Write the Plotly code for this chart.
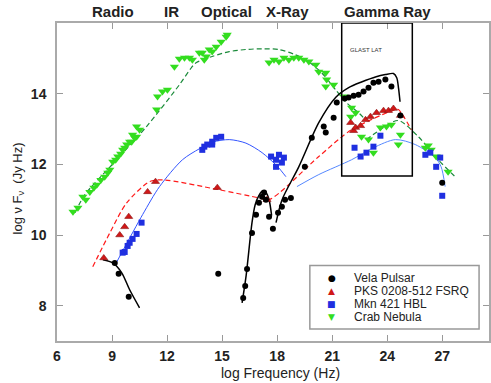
import plotly.graph_objects as go

# ---------------- data (log frequency [Hz], log nu F_nu [Jy Hz]) ----------------
vela_x = [9.15, 9.36, 9.91, 14.79, 16.15, 16.26, 16.36, 16.63, 16.85, 17.01, 17.18, 17.29, 17.39,
          17.56, 17.77, 18.05, 18.26, 18.43, 18.75, 19.51, 19.89, 20.54, 20.65, 21.08, 21.25, 21.68,
          21.90, 22.17, 22.44, 22.71, 22.98, 23.25, 23.53, 23.90, 24.23, 24.72, 27.0]
vela_y = [9.21, 8.90, 8.25, 8.90, 8.22, 8.56, 9.04, 10.06, 10.57, 10.91, 11.08, 11.20, 11.00,
          10.52, 10.18, 10.63, 10.80, 11.00, 11.05, 11.93, 12.75, 13.07, 12.90, 13.32, 13.75, 13.86,
          13.89, 13.94, 13.97, 14.06, 14.17, 14.31, 14.34, 14.40, 14.20, 13.38, 11.48]

pks_x = [8.55, 9.42, 9.69, 9.91, 10.94, 11.37, 14.74, 17.45, 22.01, 22.17, 22.28, 22.55, 22.82,
         23.09, 23.42, 23.80, 24.07, 24.34, 24.72]
pks_y = [9.35, 10.00, 10.23, 10.52, 11.22, 11.51, 11.34, 11.00, 13.18, 12.95, 13.04, 13.09, 13.26,
         13.35, 13.46, 13.52, 13.52, 13.58, 13.38]

mkn_x = [9.58, 9.69, 9.85, 9.96, 10.12, 10.34, 10.61, 13.92, 14.03, 14.19, 14.46, 14.46, 14.68,
         14.95, 17.67, 17.94, 18.10, 18.26, 17.94, 18.37, 23.63, 23.25, 22.22, 22.87, 22.55, 26.08,
         26.35, 26.89, 26.67, 27.0]
mkn_y = [9.50, 9.52, 9.69, 9.78, 9.89, 10.03, 10.35, 12.41, 12.50, 12.56, 12.64, 12.56, 12.75,
         12.78, 12.22, 12.13, 12.27, 12.05, 11.93, 12.19, 12.81, 12.50, 12.47, 12.33, 12.22, 12.27,
         12.33, 12.19, 11.93, 11.11]

crab_x = [6.87, 7.14, 7.41, 7.57, 7.79, 8.01, 8.17, 8.39, 8.60, 8.77, 8.88, 9.04, 9.20, 9.31, 9.47,
          9.58, 9.69, 9.80, 9.96, 10.07, 10.23, 10.34, 10.50, 10.34, 10.12,
          11.43, 11.48, 11.75, 12.02, 12.40, 12.67, 12.95, 13.22, 13.38, 13.76,
          13.92, 14.14, 14.46, 14.68, 14.95, 15.22, 15.28, 14.30, 14.03,
          17.56, 17.83, 18.10, 18.37, 18.64, 18.91, 19.18, 19.46, 19.73, 20.11, 20.27, 20.65, 20.70,
          21.08, 20.65, 21.63, 22.06, 22.28, 22.01, 22.60, 22.98, 23.25, 23.63, 23.96, 24.23, 24.61,
          26.08, 26.40, 26.67, 27.32, 26.24, 24.72]
crab_y = [10.66, 10.77, 11.08, 11.00, 11.22, 11.34, 11.42, 11.56, 11.65, 11.76, 11.85, 12.07, 12.13,
          12.22, 12.30, 12.41, 12.47, 12.56, 12.64, 12.64, 12.75, 12.78, 12.98, 13.07, 12.84,
          13.55, 13.92, 14.06, 14.11, 14.76, 14.99, 15.02, 15.02, 14.96, 15.16,
          15.16, 15.05, 15.19, 15.33, 15.47, 15.61, 15.67, 15.25, 14.96,
          14.88, 14.96, 14.91, 15.02, 14.96, 15.02, 15.02, 14.96, 14.91, 14.82, 14.62, 14.59, 14.40,
          14.25, 14.20, 13.92, 13.60, 13.46, 13.35, 12.78, 12.70, 12.33, 13.04, 13.07, 13.12, 12.56,
          12.47, 12.41, 12.22, 11.79, 12.53, 12.84]

# model curves
vela_m1_x = [8.50, 9.04, 9.53, 9.96, 10.50]
vela_m1_y = [9.30, 9.21, 8.93, 8.45, 7.94]
vela_m2_x = [16.09, 16.31, 16.63, 16.80, 17.01, 17.18, 17.39, 17.56, 17.70]
vela_m2_y = [8.08, 8.85, 10.35, 10.85, 11.12, 11.24, 11.20, 11.00, 10.55]
vela_m3_x = [17.94, 18.27, 19.18, 20.27, 21.20, 21.90, 22.60, 23.40, 23.90, 24.34, 24.52, 24.62, 24.70]
vela_m3_y = [10.35, 11.00, 11.93, 13.18, 13.90, 14.17, 14.33, 14.48, 14.54, 14.57, 14.45, 14.15, 13.77]

pks_m_x = [7.95, 8.88, 9.80, 11.05, 11.75, 14.84, 17.01, 17.56, 20.27, 22.06, 24.45, 24.61, 25.32]
pks_m_y = [9.10, 10.06, 10.91, 11.51, 11.56, 11.28, 11.05, 11.00, 12.22, 12.98, 13.55, 13.55, 12.98]

mkn_m1_x = [9.26, 10.67, 11.59, 12.84, 13.76, 14.50, 15.39, 16.30, 17.18, 18.00, 18.48]
mkn_m1_y = [9.24, 10.58, 11.37, 12.13, 12.44, 12.63, 12.70, 12.60, 12.33, 11.95, 11.65]
mkn_m2_x = [19.08, 20.27, 22.06, 23.25, 24.45, 25.53, 26.62, 26.94, 27.16]
mkn_m2_y = [11.37, 11.71, 12.13, 12.47, 12.70, 12.56, 12.19, 11.93, 11.37]

crab_m1_x = [6.98, 7.52, 9.20, 10.88, 12.67, 13.33, 13.60, 14.50, 15.39, 16.30, 17.18, 18.10,
             18.90, 19.56, 20.43, 21.19, 21.73, 22.44, 22.82]
crab_m1_y = [10.63, 11.14, 12.10, 13.07, 14.25, 14.74, 14.88, 15.06, 15.19, 15.25, 15.27, 15.25,
             15.12, 14.96, 14.59, 14.11, 13.77, 13.46, 13.26]
crab_m2_x = [22.87, 23.80, 24.61, 25.70, 26.78, 27.76]
crab_m2_y = [12.70, 13.04, 13.24, 12.78, 12.13, 11.62]

tick_vals = [6, 9, 12, 15, 18, 21, 24, 27]
y_ticks = [8, 10, 12, 14]
bands = ["Radio", "IR", "Optical", "X-Ray", "Gamma Ray"]
band_x = [9.04, 12.24, 15.22, 18.59, 24.02]
legend_names = ["Vela Pulsar", "PKS 0208-512 FSRQ", "Mkn 421 HBL", "Crab Nebula"]
legend_syms = ["●", "▲", "■", "▼"]
legend_cols = ["#000000", "#d01818", "#1f2fe0", "#33dd1f"]
glast_box = [21.52, 25.37, 11.67, 16.0]

FONT = "Liberation Sans, Arial, sans-serif"

fig = go.Figure()

def line(x, y, color, dash="solid", width=1):
    fig.add_trace(go.Scatter(x=x, y=y, mode="lines", line=dict(color=color, width=width, dash=dash,
                                                               shape="spline", smoothing=0.8),
                             showlegend=False, hoverinfo="skip"))

line(crab_m1_x, crab_m1_y, "#1a8a3a", "5px,3px", 1.2)
line(crab_m2_x, crab_m2_y, "#1a8a3a", "5px,3px", 1.2)
line(mkn_m1_x, mkn_m1_y, "#3355ff", "solid", 1)
line(mkn_m2_x, mkn_m2_y, "#5588ff", "solid", 1)
line(pks_m_x, pks_m_y, "#ff1a1a", "5px,3px", 1.2)
line(vela_m1_x, vela_m1_y, "#000000", "solid", 1.5)
line(vela_m2_x, vela_m2_y, "#000000", "solid", 1.5)
line(vela_m3_x, vela_m3_y, "#000000", "solid", 1.5)

fig.add_trace(go.Scatter(x=crab_x, y=crab_y, mode="markers", name=legend_names[3],
                         marker=dict(symbol="triangle-down", size=8, color=legend_cols[3]), showlegend=False))
fig.add_trace(go.Scatter(x=mkn_x, y=mkn_y, mode="markers", name=legend_names[2],
                         marker=dict(symbol="square", size=6, color=legend_cols[2]), showlegend=False))
fig.add_trace(go.Scatter(x=pks_x, y=pks_y, mode="markers", name=legend_names[1],
                         marker=dict(symbol="triangle-up", size=7, color=legend_cols[1],
                                     line=dict(color="#8a1010", width=0.6)), showlegend=False))
fig.add_trace(go.Scatter(x=vela_x, y=vela_y, mode="markers", name=legend_names[0],
                         marker=dict(symbol="circle", size=6, color="#000000"), showlegend=False))

# GLAST LAT box
fig.add_shape(type="rect", xref="x", yref="y", x0=glast_box[0], x1=glast_box[1],
              y0=glast_box[2], y1=glast_box[3], line=dict(color="black", width=1.5))
fig.add_annotation(x=glast_box[0] + 0.32, y=15.25, xref="x", yref="y", text="GLAST LAT",
                   showarrow=False, xanchor="left", yanchor="middle",
                   font=dict(family=FONT, size=6, color="#333"))

# band labels
for b, bx in zip(bands, band_x):
    fig.add_annotation(x=bx, y=1.035, xref="x", yref="paper", text=b, showarrow=False,
                       xanchor="center", yanchor="middle",
                       font=dict(family=FONT, size=15, color="#222", weight="bold"))

# axis titles
fig.add_annotation(x=0.518, y=-0.1, xref="paper", yref="paper", text="log Frequency (Hz)",
                   showarrow=False, xanchor="center", yanchor="middle",
                   font=dict(family=FONT, size=14, color="#222"))
fig.add_annotation(x=-0.09, y=0.48, xref="paper", yref="paper", text="log ν F<sub>ν</sub>  (Jy Hz)",
                   showarrow=False, textangle=-90, xanchor="center", yanchor="middle",
                   font=dict(family=FONT, size=13, color="#222"))

# legend box
fig.add_shape(type="rect", xref="paper", yref="paper", x0=0.5853, x1=0.977, y0=0.038, y1=0.2373,
              line=dict(color="#999", width=1.5), fillcolor="white")
row_y = [0.1994, 0.1582, 0.1171, 0.0759]
for name, sym, col, ry in zip(legend_names, legend_syms, legend_cols, row_y):
    fig.add_annotation(x=0.636, y=ry, xref="paper", yref="paper", text=sym, showarrow=False,
                       xanchor="center", yanchor="middle",
                       font=dict(family="DejaVu Sans", size=9, color=col))
    fig.add_annotation(x=0.684, y=ry, xref="paper", yref="paper", text=name, showarrow=False,
                       xanchor="left", yanchor="middle",
                       font=dict(family=FONT, size=12, color="#222"))

fig.update_layout(
    width=491, height=383,
    margin=dict(l=57, r=0, t=23, b=42),
    plot_bgcolor="white", paper_bgcolor="white",
    showlegend=False,
    font=dict(family=FONT, color="#222"),
)
fig.update_xaxes(range=[6, 29.55], tickvals=tick_vals, ticks="inside", ticklen=6,
                 tickcolor="#999", showline=True, linecolor="#aaa", linewidth=1.5, mirror="ticks",
                 showgrid=False, zeroline=False, ticklabelstandoff=1,
                 tickfont=dict(family=FONT, size=14, color="#222", weight="bold"))
fig.update_yaxes(range=[7, 16], tickvals=y_ticks, ticks="inside", ticklen=6,
                 tickcolor="#999", showline=True, linecolor="#aaa", linewidth=1.5, mirror="ticks",
                 showgrid=False, zeroline=False, ticklabelstandoff=6,
                 tickfont=dict(family=FONT, size=14, color="#222", weight="bold"))

fig.write_html("out.html", config={"displayModeBar": False},
               post_script="document.body.style.margin='0px';")
